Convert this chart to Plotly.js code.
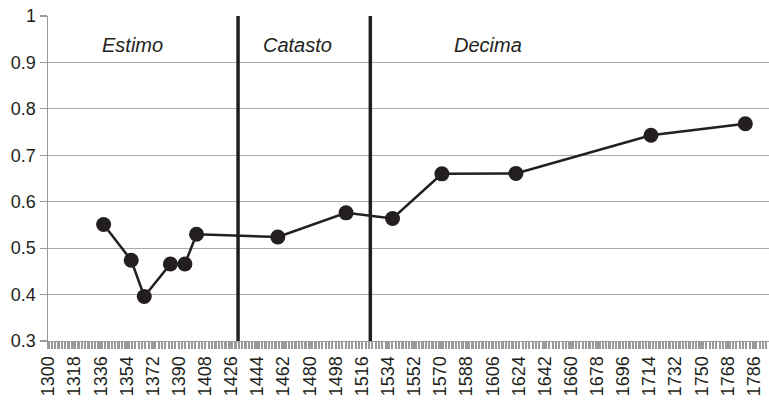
<!DOCTYPE html>
<html>
<head>
<meta charset="utf-8">
<script src="https://cdn.plot.ly/plotly-3.0.1.min.js"></script>
<style>html,body{margin:0;padding:0;background:#fff;}#chart{width:769px;height:405px;}</style>
</head>
<body>
<div id="chart"></div>
<script>
const years = [1338, 1357, 1366, 1384, 1394, 1402, 1458, 1505, 1537, 1571, 1622, 1715, 1780];
const values = [0.551, 0.474, 0.396, 0.466, 0.466, 0.530, 0.524, 0.576, 0.564, 0.660, 0.661, 0.743, 0.768];
const periodBreaks = [1430.6, 1521.7];
const periodLabels = ["Estimo", "Catasto", "Decima"];
const periodLabelYears = [1357.8, 1471.4, 1602.9];
const tickYears = [];
for (let y = 1300; y <= 1786; y += 18) tickYears.push(y);

const trace = {
  x: years, y: values, type: 'scatter', mode: 'lines+markers',
  line: {color: '#231f20', width: 2.5},
  marker: {color: '#231f20', size: 15},
  cliponaxis: false, hoverinfo: 'skip'
};

const shapes = periodBreaks.map(v => ({
  type: 'line', xref: 'x', yref: 'y', x0: v, x1: v, y0: 0.3, y1: 1,
  line: {color: '#231f20', width: 3.5}
}));

const annotations = periodLabels.map((t, i) => ({
  text: t, x: periodLabelYears[i], y: 0.937, xref: 'x', yref: 'y',
  showarrow: false, font: {family: 'Liberation Sans, Arial, sans-serif', size: 20, color: '#231f20', style: 'italic'}
}));

const layout = {
  width: 769, height: 405,
  margin: {l: 48, r: 0, t: 16, b: 64},
  paper_bgcolor: '#fff', plot_bgcolor: '#fff',
  showlegend: false,
  font: {family: 'Liberation Sans, Arial, sans-serif', size: 18, color: '#231f20'},
  xaxis: {
    range: [1299.7, 1796.3], tickmode: 'array', tickvals: tickYears,
    ticktext: tickYears.map(String), tickangle: -90,
    showgrid: false, zeroline: false,
    showline: true, linecolor: '#999', linewidth: 1,
    ticks: 'outside', ticklen: 7, tickwidth: 2.2, tickcolor: '#999',
    minor: {dtick: 2.3, tick0: 1300, ticks: 'outside', ticklen: 7, tickwidth: 2.2, tickcolor: '#999', showgrid: false},
    tickfont: {size: 18, color: '#231f20'}
  },
  yaxis: {
    range: [0.3, 1], dtick: 0.1, tick0: 0.3,
    showgrid: true, gridcolor: '#aaa', gridwidth: 1.2,
    zeroline: false, showline: true, linecolor: '#999', linewidth: 1.5,
    ticks: 'outside', ticklen: 7, tickcolor: '#999', tickwidth: 1.2,
    tickfont: {size: 18, color: '#231f20'}
  },
  shapes: shapes,
  annotations: annotations
};

Plotly.newPlot('chart', [trace], layout, {staticPlot: true, displayModeBar: false});
</script>
</body>
</html>
